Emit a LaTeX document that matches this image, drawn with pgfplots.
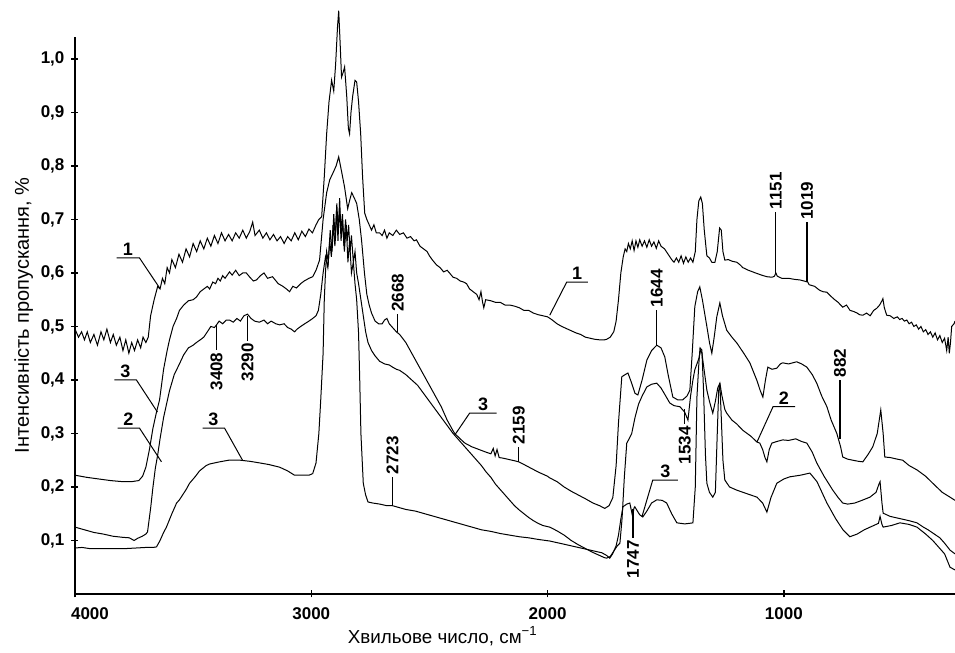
\documentclass[border=0pt]{standalone}
\usepackage{fontspec}
\setmainfont{Liberation Sans}
\usepackage{pgfplots}
\pgfplotsset{compat=1.18}
\newcommand\tfont{\fontsize{8.5}{10}\selectfont\bfseries}
\newcommand\lfont{\fontsize{9}{10}\selectfont\bfseries}
\begin{document}
\begin{tikzpicture}
\begin{axis}[
  at={(0,0)}, anchor=south west,
  scale only axis, width=440pt, height=278.5pt,
  xmin=276, xmax=4000, x dir=reverse, ymin=0, ymax=1.041,
  axis x line*=bottom, axis y line*=left,
  axis line style={line width=0.8pt, -},
  tick align=center, major tick length=3.5pt,
  tick style={line width=0.6pt, black},
  xtick={4000,3000,2000,1000},
  xticklabels={{\hspace*{15pt}4000},3000,2000,1000},
  ytick={0.1,0.2,0.3,0.4,0.5,0.6,0.7,0.8,0.9,1.0},
  ticklabel style={font=\tfont},
  xticklabel style={yshift=-1.5pt},
  /pgf/number format/.cd, fixed, fixed zerofill, precision=1, use comma, assume math mode=true,
  /pgfplots/.cd,
  xlabel={Хвильове число, см\textsuperscript{−1}},
  ylabel={Інтенсивність пропускання, \%},
  xlabel style={at={(axis description cs:0.418,-0.088)}, anchor=base, font=\fontsize{9.4}{10}\selectfont},
  ylabel style={at={(axis description cs:-0.0523,0.5)}, anchor=base, font=\fontsize{10}{11}\selectfont},
  clip=false,
  cycle list={{black, line width=0.5pt, mark=none}},
]
% Curve 1 (A)
\addplot[black, line width=0.5pt, mark=none] coordinates {
(4000,0.495)(3985,0.48)(3972,0.49)(3960,0.475)(3948,0.49)(3935,0.47)(3920,0.485)(3905,0.465)(3890,0.49)(3878,0.475)(3865,0.495)(3850,0.47)(3838,0.485)(3825,0.465)(3810,0.48)(3797,0.455)(3785,0.475)(3772,0.45)(3760,0.47)(3748,0.455)(3735,0.475)(3722,0.46)(3712,0.48)(3700,0.47)(3690,0.48)
(3680,0.52)(3665,0.55)(3650,0.575)(3640,0.57)(3630,0.59)(3620,0.58)(3610,0.61)(3600,0.60)(3590,0.625)(3575,0.61)(3560,0.635)(3545,0.62)(3530,0.645)(3515,0.63)(3500,0.655)(3485,0.64)(3470,0.66)(3455,0.645)(3440,0.665)(3425,0.65)(3410,0.67)(3395,0.655)(3380,0.675)(3365,0.66)(3350,0.672)(3335,0.66)(3320,0.675)(3305,0.665)(3290,0.68)(3275,0.665)(3260,0.678)(3248,0.695)(3238,0.67)(3220,0.68)(3205,0.665)(3190,0.675)(3175,0.662)(3160,0.672)(3145,0.66)(3130,0.668)(3115,0.655)(3100,0.668)(3085,0.66)(3070,0.675)(3055,0.662)(3040,0.678)(3025,0.668)(3010,0.682)(2995,0.675)(2980,0.69)(2968,0.70)(2956,0.705)
(2945,0.78)(2935,0.86)(2925,0.92)(2914,0.96)(2905,0.94)(2897,0.99)(2889,1.06)(2884,1.09)(2878,1.03)(2872,0.966)(2865,0.975)(2859,0.985)(2850,0.93)(2843,0.87)(2838,0.86)(2832,0.9)(2825,0.93)(2815,0.96)(2808,0.957)(2800,0.92)(2791,0.86)(2783,0.78)(2774,0.712)
(2765,0.70)(2755,0.69)(2745,0.68)(2735,0.69)(2725,0.675)(2711,0.675)(2700,0.67)(2690,0.68)(2680,0.665)(2670,0.675)(2655,0.67)(2640,0.68)(2626,0.672)(2610,0.675)(2595,0.665)(2580,0.668)(2565,0.66)(2555,0.662)(2540,0.65)(2525,0.645)(2510,0.64)(2500,0.632)(2487,0.624)(2470,0.615)(2455,0.61)(2440,0.602)(2425,0.605)(2415,0.6)(2400,0.592)(2385,0.59)(2370,0.585)(2355,0.583)(2343,0.58)(2330,0.57)(2315,0.565)(2300,0.56)(2290,0.55)(2282,0.565)(2275,0.545)(2270,0.535)(2262,0.55)
(2240,0.548)(2220,0.545)(2200,0.545)(2180,0.54)(2160,0.54)(2140,0.538)(2120,0.535)(2100,0.53)(2080,0.53)(2060,0.525)(2040,0.522)(2020,0.52)(2000,0.518)(1980,0.512)(1960,0.505)(1940,0.5)(1920,0.496)(1900,0.492)(1880,0.488)(1860,0.485)(1840,0.48)(1820,0.478)(1800,0.476)(1780,0.475)(1760,0.475)(1750,0.476)(1735,0.48)(1720,0.49)(1710,0.51)(1700,0.55)(1690,0.6)(1680,0.63)
(1672,0.645)(1665,0.64)(1658,0.655)(1650,0.645)(1642,0.66)(1634,0.642)(1626,0.66)(1618,0.648)(1610,0.662)(1600,0.65)(1590,0.66)(1580,0.648)(1570,0.662)(1560,0.65)(1550,0.658)(1540,0.646)(1530,0.66)(1520,0.65)(1505,0.645)(1490,0.635)(1475,0.625)(1465,0.62)(1455,0.628)(1445,0.62)(1435,0.632)(1425,0.618)(1415,0.63)(1405,0.62)(1395,0.628)(1385,0.62)(1375,0.64)(1368,0.7)(1360,0.735)(1352,0.742)(1345,0.73)(1337,0.68)(1326,0.632)(1315,0.628)(1305,0.62)(1292,0.62)(1282,0.64)(1272,0.684)(1265,0.68)(1258,0.64)(1250,0.624)
(1235,0.625)(1220,0.622)(1199,0.62)(1185,0.615)(1174,0.61)(1150,0.605)(1120,0.6)(1095,0.596)(1072,0.593)(1050,0.592)(1040,0.594)(1034,0.60)(1028,0.594)(1009,0.59)(980,0.59)(955,0.588)(933,0.587)(915,0.585)(899,0.583)(893,0.578)(870,0.575)(850,0.568)(835,0.565)(818,0.564)(800,0.556)(785,0.55)(770,0.545)(760,0.54)(751,0.536)(735,0.54)(720,0.53)(705,0.528)(690,0.525)(680,0.522)(666,0.521)(650,0.525)(635,0.52)(620,0.53)(607,0.534)(595,0.54)(585,0.548)(581,0.552)(575,0.535)(565,0.521)
(550,0.52)(535,0.515)(520,0.518)(510,0.513)(500,0.515)(490,0.51)(480,0.512)(470,0.505)(460,0.508)(450,0.5)(440,0.503)(430,0.495)(420,0.5)(410,0.49)(400,0.494)(390,0.485)(380,0.49)(370,0.48)(360,0.488)(350,0.475)(340,0.483)(330,0.47)(320,0.478)(311,0.455)(305,0.48)(300,0.45)(295,0.47)(290,0.5)(280,0.505)(276,0.51)
};
% Curve 3 (B, upper)
\addplot[black, line width=0.5pt, mark=none] coordinates {
(4000,0.222)(3950,0.218)(3900,0.215)(3850,0.212)(3800,0.21)(3760,0.21)(3730,0.212)(3714,0.22)(3700,0.237)(3685,0.27)(3670,0.31)(3655,0.34)(3642,0.363)(3625,0.42)(3610,0.455)(3600,0.475)(3585,0.5)(3570,0.515)(3558,0.53)(3540,0.54)(3520,0.548)(3500,0.55)(3486,0.555)(3470,0.565)(3455,0.57)(3440,0.575)(3430,0.57)(3417,0.583)(3405,0.58)(3395,0.59)(3385,0.585)(3375,0.595)(3365,0.59)(3346,0.602)(3335,0.596)(3320,0.605)(3305,0.595)(3290,0.6)(3275,0.6)(3260,0.592)(3245,0.585)(3232,0.587)(3215,0.595)(3200,0.6)(3185,0.59)(3164,0.593)(3140,0.58)(3120,0.575)(3105,0.57)(3092,0.565)(3078,0.575)(3063,0.572)(3045,0.58)(3030,0.585)(3010,0.59)(2994,0.593)(2980,0.605)(2965,0.624)
(2950,0.70)(2935,0.75)(2922,0.774)(2905,0.79)(2895,0.80)(2884,0.817)(2872,0.79)(2859,0.76)(2846,0.72)(2838,0.735)(2829,0.75)(2818,0.74)(2808,0.73)(2797,0.70)(2787,0.66)(2775,0.6)(2765,0.56)(2755,0.54)(2745,0.525)(2730,0.51)(2715,0.505)(2700,0.505)(2690,0.512)(2680,0.515)(2670,0.505)(2660,0.5)(2640,0.49)(2626,0.485)
(2600,0.47)(2575,0.45)(2550,0.43)(2525,0.41)(2500,0.39)(2475,0.37)(2450,0.35)(2425,0.325)(2400,0.305)(2393,0.30)(2370,0.29)(2350,0.282)(2320,0.275)(2290,0.27)(2260,0.265)(2240,0.262)(2230,0.272)(2222,0.258)(2214,0.27)(2205,0.255)(2190,0.254)(2170,0.252)(2140,0.249)(2122,0.247)(2100,0.242)(2070,0.235)(2040,0.228)(2000,0.22)(1991,0.217)(1960,0.21)(1930,0.2)(1900,0.192)(1870,0.185)(1840,0.178)(1808,0.17)(1780,0.165)(1758,0.16)(1740,0.165)(1724,0.18)(1710,0.24)(1700,0.32)(1686,0.406)(1672,0.41)(1660,0.413)(1645,0.395)(1630,0.375)(1618,0.372)(1600,0.40)(1580,0.437)(1560,0.455)(1538,0.465)(1520,0.46)(1504,0.443)(1490,0.41)(1470,0.368)(1450,0.363)(1428,0.363)(1410,0.37)(1398,0.381)(1388,0.45)(1377,0.537)(1365,0.565)(1356,0.574)(1345,0.55)(1326,0.50)(1315,0.47)(1305,0.45)(1295,0.48)(1284,0.518)(1271,0.544)(1260,0.52)(1242,0.493)(1220,0.48)(1199,0.469)(1170,0.45)(1144,0.432)(1115,0.40)(1100,0.38)(1089,0.368)(1078,0.40)(1068,0.424)(1050,0.42)(1030,0.422)(1015,0.43)(1005,0.432)(980,0.43)(946,0.434)(925,0.43)(903,0.424)(880,0.41)(861,0.394)(840,0.37)(818,0.35)(800,0.325)(776,0.30)(760,0.275)(751,0.256)(730,0.252)(708,0.25)(685,0.248)(666,0.247)(645,0.26)(624,0.275)(605,0.3)(590,0.344)(580,0.3)(573,0.256)(550,0.255)(520,0.252)(497,0.25)(470,0.24)(437,0.232)(400,0.22)(370,0.207)(330,0.19)(297,0.181)(276,0.175)
};
% Curve 2 (D)
\addplot[black, line width=0.5pt, mark=none] coordinates {
(4000,0.125)(3960,0.12)(3920,0.115)(3880,0.112)(3840,0.108)(3800,0.106)(3770,0.105)(3750,0.10)(3735,0.104)(3715,0.108)(3700,0.112)(3693,0.116)(3680,0.16)(3670,0.2)(3660,0.235)(3650,0.26)(3640,0.29)(3625,0.33)(3610,0.36)(3600,0.38)(3580,0.41)(3558,0.43)(3540,0.447)(3520,0.46)(3500,0.465)(3486,0.47)(3470,0.475)(3455,0.48)(3440,0.49)(3425,0.5)(3410,0.498)(3401,0.503)(3390,0.51)(3375,0.505)(3360,0.512)(3346,0.512)(3330,0.508)(3315,0.515)(3300,0.51)(3285,0.52)(3270,0.523)(3255,0.515)(3240,0.51)(3220,0.508)(3200,0.512)(3185,0.505)(3170,0.51)(3150,0.505)(3134,0.503)(3115,0.505)(3100,0.498)(3085,0.495)(3071,0.49)(3060,0.495)(3045,0.5)(3028,0.505)(3010,0.51)(2994,0.515)(2980,0.52)(2970,0.53)(2960,0.56)(2950,0.6)
(2940,0.63)(2930,0.61)(2922,0.66)(2915,0.63)(2908,0.69)(2900,0.65)(2893,0.72)(2887,0.66)(2880,0.74)(2875,0.68)(2868,0.71)(2862,0.65)(2855,0.70)(2848,0.66)(2842,0.69)(2836,0.64)(2830,0.67)(2822,0.62)(2815,0.64)(2808,0.6)(2800,0.58)(2790,0.55)(2780,0.52)(2770,0.49)(2760,0.47)(2745,0.455)(2730,0.445)(2711,0.435)(2690,0.43)(2670,0.428)(2656,0.424)(2640,0.42)(2626,0.418)
(2600,0.41)(2575,0.4)(2550,0.39)(2525,0.375)(2500,0.36)(2475,0.345)(2450,0.33)(2425,0.315)(2400,0.3)(2380,0.29)(2360,0.28)(2340,0.27)(2320,0.26)(2300,0.25)(2280,0.24)(2260,0.228)(2240,0.218)(2220,0.205)(2200,0.195)(2180,0.185)(2160,0.175)(2140,0.165)(2120,0.157)(2100,0.15)(2080,0.143)(2060,0.137)(2040,0.132)(2020,0.128)(1991,0.125)(1960,0.118)(1930,0.11)(1900,0.1)(1870,0.092)(1840,0.085)(1810,0.078)(1780,0.072)(1760,0.068)(1750,0.067)(1735,0.07)(1720,0.08)(1705,0.09)(1694,0.095)(1685,0.14)(1675,0.22)(1665,0.282)(1655,0.29)(1644,0.30)(1630,0.33)(1615,0.355)(1600,0.37)(1580,0.387)(1560,0.392)(1538,0.394)(1520,0.385)(1500,0.37)(1483,0.357)(1465,0.352)(1440,0.35)(1420,0.34)(1406,0.325)(1395,0.37)(1385,0.40)(1377,0.419)(1360,0.44)(1352,0.456)(1347,0.45)(1338,0.42)(1326,0.381)(1315,0.36)(1301,0.338)(1290,0.36)(1280,0.385)(1271,0.394)(1262,0.37)(1250,0.345)(1242,0.338)(1220,0.325)(1200,0.318)(1174,0.306)(1140,0.295)(1114,0.284)(1102,0.282)(1090,0.27)(1080,0.255)(1072,0.247)(1062,0.27)(1051,0.282)(1030,0.285)(1005,0.288)(980,0.287)(950,0.29)(925,0.285)(903,0.282)(880,0.265)(861,0.245)(830,0.22)(793,0.194)(770,0.18)(751,0.17)(730,0.168)(700,0.17)(670,0.175)(636,0.181)(610,0.19)(598,0.205)(593,0.21)(585,0.17)(580,0.151)(550,0.145)(500,0.14)(470,0.137)(437,0.133)(410,0.125)(390,0.12)(370,0.114)(340,0.105)(320,0.095)(297,0.082)(276,0.075)
};
% Curve 3 (E, lower)
\addplot[black, line width=0.5pt, mark=none] coordinates {
(4000,0.086)(3970,0.087)(3940,0.085)(3900,0.085)(3860,0.085)(3820,0.085)(3780,0.085)(3740,0.086)(3700,0.087)(3670,0.087)(3655,0.088)(3640,0.1)(3625,0.115)(3613,0.125)(3590,0.15)(3570,0.17)(3558,0.176)(3530,0.195)(3515,0.207)(3490,0.22)(3473,0.23)(3445,0.24)(3430,0.243)(3388,0.247)(3350,0.25)(3300,0.25)(3260,0.248)(3219,0.245)(3180,0.242)(3134,0.237)(3100,0.23)(3071,0.222)(3040,0.222)(3010,0.222)(2994,0.225)(2980,0.245)(2968,0.3)(2960,0.363)(2950,0.45)(2945,0.55)
(2940,0.6)(2935,0.64)(2928,0.62)(2920,0.68)(2912,0.64)(2905,0.71)(2898,0.66)(2892,0.73)(2886,0.68)(2880,0.72)(2874,0.66)(2868,0.70)(2860,0.64)(2852,0.69)(2845,0.62)(2838,0.66)(2830,0.6)(2822,0.62)(2815,0.58)(2808,0.55)(2800,0.488)(2795,0.40)(2790,0.30)(2780,0.207)(2770,0.185)(2760,0.172)(2740,0.17)(2710,0.168)(2680,0.165)(2656,0.165)(2640,0.163)
(2600,0.158)(2560,0.155)(2520,0.15)(2480,0.145)(2440,0.14)(2400,0.135)(2360,0.13)(2320,0.125)(2280,0.12)(2240,0.117)(2200,0.113)(2160,0.11)(2120,0.107)(2080,0.105)(2040,0.102)(1991,0.099)(1950,0.095)(1900,0.09)(1850,0.085)(1800,0.08)(1770,0.077)(1750,0.072)(1737,0.067)(1725,0.075)(1710,0.09)(1700,0.11)(1690,0.14)(1681,0.163)(1665,0.168)(1652,0.17)(1645,0.155)(1640,0.144)(1635,0.16)(1631,0.163)(1620,0.155)(1610,0.148)(1597,0.144)(1580,0.155)(1560,0.17)(1538,0.176)(1515,0.175)(1496,0.17)(1475,0.15)(1453,0.133)(1420,0.131)(1400,0.132)(1385,0.133)(1375,0.2)(1368,0.368)(1360,0.43)(1355,0.46)(1347,0.456)(1340,0.38)(1332,0.26)(1326,0.207)(1315,0.19)(1301,0.181)(1290,0.19)(1282,0.3)(1276,0.38)(1271,0.394)(1265,0.33)(1258,0.25)(1250,0.213)(1230,0.2)(1199,0.194)(1160,0.188)(1114,0.181)(1090,0.17)(1072,0.153)(1055,0.18)(1030,0.207)(1000,0.215)(975,0.219)(930,0.222)(890,0.226)(860,0.21)(818,0.17)(780,0.14)(750,0.12)(721,0.107)(690,0.112)(660,0.12)(620,0.128)(600,0.132)(593,0.145)(585,0.13)(580,0.125)(545,0.128)(509,0.133)(470,0.13)(437,0.125)(400,0.112)(370,0.1)(340,0.085)(320,0.075)(297,0.05)(276,0.045)
};
% curve labels
\draw[line width=0.5pt] (axis cs:3824,0.628) -- (axis cs:3727,0.628) -- (axis cs:3642,0.572);
\node[anchor=south,inner sep=1pt,font=\lfont] at (axis cs:3776,0.628) {1};
\draw[line width=0.5pt] (axis cs:3833,0.40) -- (axis cs:3740,0.40) -- (axis cs:3651,0.34);
\node[anchor=south,inner sep=1pt,font=\lfont] at (axis cs:3787,0.40) {3};
\draw[line width=0.5pt] (axis cs:3820,0.31) -- (axis cs:3727,0.31) -- (axis cs:3634,0.247);
\node[anchor=south,inner sep=1pt,font=\lfont] at (axis cs:3774,0.31) {2};
\draw[line width=0.5pt] (axis cs:3460,0.31) -- (axis cs:3367,0.31) -- (axis cs:3291,0.25);
\node[anchor=south,inner sep=1pt,font=\lfont] at (axis cs:3414,0.31) {3};
\draw[line width=0.5pt] (axis cs:1830,0.583) -- (axis cs:1919,0.583) -- (axis cs:1991,0.521);
\node[anchor=south,inner sep=1pt,font=\lfont] at (axis cs:1875,0.583) {1};
\draw[line width=0.5pt] (axis cs:2216,0.338) -- (axis cs:2330,0.338) -- (axis cs:2393,0.297);
\node[anchor=south,inner sep=1pt,font=\lfont] at (axis cs:2273,0.338) {3};
\draw[line width=0.5pt] (axis cs:953,0.35) -- (axis cs:1046,0.35) -- (axis cs:1114,0.284);
\node[anchor=south,inner sep=1pt,font=\lfont] at (axis cs:1000,0.35) {2};
\draw[line width=0.5pt] (axis cs:1449,0.213) -- (axis cs:1555,0.213) -- (axis cs:1601,0.144);
\node[anchor=south,inner sep=1pt,font=\lfont] at (axis cs:1502,0.213) {3};
% wavenumber annotations
\draw[line width=0.6pt] (axis cs:3401,0.503) -- (axis cs:3401,0.456) node[rotate=90,anchor=east,inner sep=1pt,font=\tfont] {3408};
\draw[line width=0.6pt] (axis cs:3270,0.52) -- (axis cs:3270,0.473) node[rotate=90,anchor=east,inner sep=1pt,font=\tfont] {3290};
\draw[line width=0.6pt] (axis cs:2634,0.49) -- (axis cs:2634,0.523) node[rotate=90,anchor=west,inner sep=1pt,font=\tfont] {2668};
\draw[line width=0.6pt] (axis cs:2656,0.167) -- (axis cs:2656,0.219) node[rotate=90,anchor=west,inner sep=1pt,font=\tfont] {2723};
\draw[line width=0.6pt] (axis cs:2122,0.247) -- (axis cs:2122,0.275) node[rotate=90,anchor=west,inner sep=1pt,font=\tfont] {2159};
\draw[line width=0.6pt] (axis cs:1538,0.465) -- (axis cs:1538,0.531) node[rotate=90,anchor=west,inner sep=1pt,font=\tfont] {1644};
\draw[line width=0.6pt] (axis cs:1419,0.345) -- (axis cs:1419,0.318) node[rotate=90,anchor=east,inner sep=1pt,font=\tfont] {1534};
\draw[line width=0.6pt] (axis cs:1639,0.158) -- (axis cs:1639,0.105) node[rotate=90,anchor=east,inner sep=1pt,font=\tfont] {1747};
\draw[line width=0.6pt] (axis cs:763,0.29) -- (axis cs:763,0.40) node[rotate=90,anchor=west,inner sep=1pt,font=\tfont] {882};
\draw[line width=0.6pt] (axis cs:1034,0.60) -- (axis cs:1034,0.714) node[rotate=90,anchor=west,inner sep=1pt,font=\tfont] {1151};
\draw[line width=0.6pt] (axis cs:902,0.583) -- (axis cs:902,0.695) node[rotate=90,anchor=west,inner sep=1pt,font=\tfont] {1019};
\end{axis}
\pgfresetboundingbox
\path[use as bounding box] (-37.5pt,-29.5pt) rectangle (440pt,297pt);
\end{tikzpicture}
\end{document}
